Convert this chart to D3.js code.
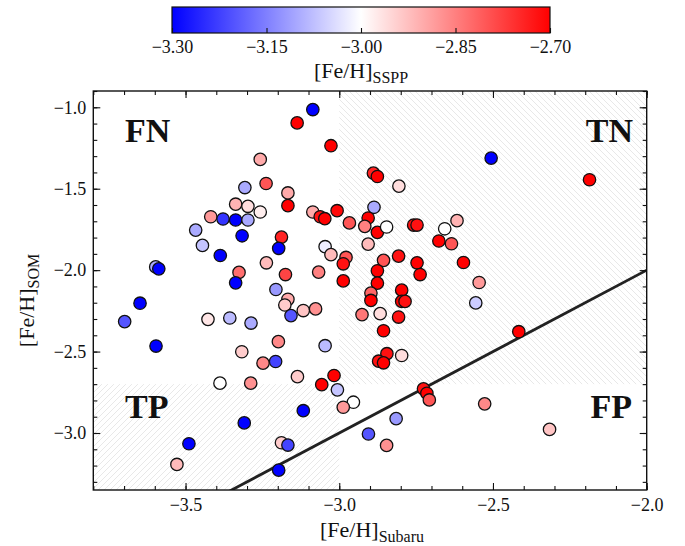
<!DOCTYPE html>
<html>
<head>
<meta charset="utf-8">
<script src="https://cdn.jsdelivr.net/npm/d3@7"></script>
<style>
  html, body { margin: 0; padding: 0; background: #fff; }
  svg { display: block; }
  text { font-family: "Liberation Serif", "DejaVu Serif", serif; fill: #111; }
</style>
</head>
<body>
<svg id="chart" width="685" height="546"></svg>
<script>
// [Fe/H] from Subaru high-resolution spectra
const xSubaru = [
  -3.086, -3.137, -3.027, -3.257, -3.238, -3.307, -3.167, -3.337, -3.297, -3.167,
  -3.257, -3.086, -3.062, -3.047, -3.007, -2.967, -3.418, -3.378, -3.337, -3.297,
  -3.467, -3.316, -3.445, -3.387, -3.188, -3.197, -3.046, -3.027, -2.978, -2.987,
  -3.597, -3.587, -3.237, -3.326, -3.175, -3.067, -2.987, -3.337, -3.206,
  -2.506, -2.186, -2.889, -2.876, -2.806, -2.887, -2.906, -2.917, -2.876, -2.846,
  -2.758, -2.747, -2.657, -2.617, -2.676, -2.635, -2.906, -2.856, -2.807, -2.876,
  -2.747, -2.737, -2.596, -2.876, -2.545, -2.797,
  -2.556, -2.897, -2.897, -2.797, -2.786, -2.926, -2.867, -2.807, -2.856, -2.416,
  -2.845, -2.872, -2.856, -2.797, -3.017, -3.006, -2.954, -2.987, -2.726, -2.715,
  -2.707, -2.527, -2.815, -2.905, -2.846, -2.316,
  -3.648, -3.698, -3.167, -3.177, -3.157, -3.117, -3.077, -3.427, -3.356, -3.287,
  -3.596, -3.198, -3.317, -3.207, -3.248, -3.046, -3.136, -3.057, -3.388, -3.288,
  -3.117, -3.309, -3.489, -3.188, -3.167, -3.528, -3.197
];

// [Fe/H] predicted by the SOM
const ySOM = [
  -1.014, -1.096, -1.236, -1.320, -1.468, -1.493, -1.526, -1.595, -1.608, -1.604,
  -1.643, -1.643, -1.672, -1.684, -1.635, -1.710, -1.672, -1.686, -1.692, -1.692,
  -1.754, -1.789, -1.848, -1.910, -1.797, -1.866, -1.856, -1.905, -1.922, -1.961,
  -1.980, -1.992, -1.955, -2.014, -2.027, -2.012, -2.066, -2.078, -2.119,
  -1.312, -1.445, -1.404, -1.425, -1.484, -1.614, -1.680, -1.731, -1.768, -1.735,
  -1.723, -1.723, -1.746, -1.696, -1.821, -1.838, -1.840, -1.940, -1.914, -2.004,
  -1.955, -2.027, -1.953, -2.080, -2.076, -2.123,
  -2.201, -2.141, -2.186, -2.192, -2.192, -2.273, -2.267, -2.288, -2.372, -2.378,
  -2.513, -2.559, -2.569, -2.524, -2.647, -2.735, -2.811, -2.842, -2.729, -2.756,
  -2.797, -2.821, -2.912, -3.006, -3.076, -2.978,
  -2.203, -2.316, -2.179, -2.214, -2.279, -2.248, -2.238, -2.302, -2.294, -2.325,
  -2.466, -2.439, -2.501, -2.561, -2.571, -2.464, -2.654, -2.703, -2.694, -2.694,
  -2.863, -2.938, -3.066, -3.060, -3.074, -3.193, -3.228
];

// [Fe/H] from the SSPP, used for colour
const cSSPP = [
  -3.32, -2.70, -2.70, -2.90, -2.80, -3.10, -2.90, -2.91, -2.96, -2.70,
  -2.98, -2.90, -2.72, -2.70, -2.71, -2.80, -2.88, -3.24, -3.30, -3.10,
  -3.10, -3.30, -3.07, -3.30, -2.74, -3.30, -3.02, -2.92, -2.80, -2.72,
  -3.10, -3.30, -2.92, -2.83, -2.78, -2.85, -2.70, -3.30, -3.12,
  -3.30, -2.70, -2.74, -2.70, -2.96, -3.10, -2.70, -2.85, -2.70, -3.00,
  -2.72, -2.72, -3.00, -2.91, -2.70, -2.80, -2.92, -2.80, -2.72, -2.70,
  -2.70, -2.70, -2.70, -2.70, -2.88, -2.70,
  -3.06, -2.82, -2.70, -2.70, -2.72, -2.84, -2.96, -2.72, -2.70, -2.70,
  -2.72, -2.72, -2.70, -2.96, -2.70, -3.07, -3.00, -2.88, -2.72, -2.70,
  -2.80, -2.86, -3.12, -3.20, -2.87, -2.93,
  -3.30, -3.20, -2.90, -2.94, -3.20, -2.93, -2.87, -2.97, -3.08, -3.10,
  -3.30, -2.86, -2.94, -3.22, -2.86, -3.08, -2.94, -2.70, -3.00, -2.87,
  -3.30, -3.30, -3.30, -2.94, -3.22, -2.92, -3.30
];

// Axis ticks
const xMajorTicks = [-3.5, -3.0, -2.5, -2.0];
const yMajorTicks = [-1.0, -1.5, -2.0, -2.5, -3.0];
const cbarTicks = [-3.30, -3.15, -3.00, -2.85, -2.70];

// Classification regions and labels
const splitX = -3.0, splitY = -2.7;
const quadrantLabels = ["FN", "TN", "TP", "FP"];

const svg = d3.select("#chart");
const plot = { left: 93.3, right: 646.7, top: 91, bottom: 490 };

const x = d3.scaleLinear().domain([-3.8, -2.0]).range([plot.left, plot.right]);
const y = d3.scaleLinear().domain([-3.35, -0.9]).range([plot.bottom, plot.top]);
const color = d3.scaleLinear()
  .domain([-3.3, -3.0, -2.7])
  .range(["#0000ff", "#ffffff", "#ff0000"])
  .clamp(true);

const defs = svg.append("defs");
// hatch patterns for the "true" regions
function hatch(id, d) {
  const p = defs.append("pattern").attr("id", id)
    .attr("patternUnits", "userSpaceOnUse").attr("width", 6).attr("height", 6);
  p.append("path").attr("d", d).attr("stroke", "#e2e2e2")
    .attr("stroke-width", 0.8).attr("fill", "none");
}
hatch("hatchBack", "M0,0L6,6M-1,5L1,7M5,-1L7,1");
hatch("hatchFwd", "M0,6L6,0M-1,1L1,-1M5,7L7,5");

defs.append("clipPath").attr("id", "plotClip").append("rect")
  .attr("x", plot.left).attr("y", plot.top)
  .attr("width", plot.right - plot.left).attr("height", plot.bottom - plot.top);

const gPlot = svg.append("g").attr("clip-path", "url(#plotClip)");

// TN region
gPlot.append("rect")
  .attr("x", x(splitX)).attr("y", y(-0.9))
  .attr("width", x(-2.0) - x(splitX)).attr("height", y(splitY) - y(-0.9))
  .attr("fill", "url(#hatchBack)");
// TP region
gPlot.append("rect")
  .attr("x", x(-3.8)).attr("y", y(splitY))
  .attr("width", x(splitX) - x(-3.8)).attr("height", y(-3.35) - y(splitY))
  .attr("fill", "url(#hatchFwd)");

// one-to-one line
gPlot.append("line")
  .attr("x1", x(-3.8)).attr("y1", y(-3.8))
  .attr("x2", x(-2.0)).attr("y2", y(-2.0))
  .attr("stroke", "#222").attr("stroke-width", 2.8);

// stars
gPlot.selectAll("circle.star").data(d3.range(xSubaru.length)).join("circle")
  .attr("class", "star")
  .attr("cx", i => x(xSubaru[i]))
  .attr("cy", i => y(ySOM[i]))
  .attr("r", 6.2)
  .attr("fill", i => color(cSSPP[i]))
  .attr("stroke", "#111").attr("stroke-width", 1.3);

// quadrant labels
const labelPos = [
  { t: quadrantLabels[0], x: 125, y: 141.5, a: "start" },
  { t: quadrantLabels[1], x: 633, y: 141.5, a: "end" },
  { t: quadrantLabels[2], x: 125, y: 417.5, a: "start" },
  { t: quadrantLabels[3], x: 632, y: 417.5, a: "end" }
];
svg.selectAll("text.quad").data(labelPos).join("text")
  .attr("class", "quad")
  .attr("x", d => d.x).attr("y", d => d.y)
  .attr("text-anchor", d => d.a)
  .style("font-size", "34px").style("font-weight", "bold")
  .text(d => d.t);

// axes with inward ticks on all four sides
const fmt1 = d3.format(".1f");
const minorX = d3.range(-3.8, -1.999, 0.1).map(v => +v.toFixed(2));
const minorY = d3.range(-3.3, -0.899, 0.1).map(v => +v.toFixed(2));

function styleAxis(g) {
  g.select(".domain").remove();
  g.selectAll(".tick line").attr("stroke", "#111").attr("stroke-width", 1.1);
  g.selectAll("text").style("font-size", "18px").style("font-family", "Liberation Serif, serif").attr("fill", "#111");
}

svg.append("g").attr("transform", `translate(0,${plot.bottom})`)
  .call(d3.axisBottom(x).tickValues(xMajorTicks).tickFormat(fmt1).tickSize(-7).tickPadding(8)).call(styleAxis);
svg.append("g").attr("transform", `translate(0,${plot.bottom})`)
  .call(d3.axisBottom(x).tickValues(minorX).tickFormat("").tickSize(-4)).call(styleAxis);
svg.append("g").attr("transform", `translate(0,${plot.top})`)
  .call(d3.axisTop(x).tickValues(xMajorTicks).tickFormat("").tickSize(-7)).call(styleAxis);
svg.append("g").attr("transform", `translate(0,${plot.top})`)
  .call(d3.axisTop(x).tickValues(minorX).tickFormat("").tickSize(-4)).call(styleAxis);

svg.append("g").attr("transform", `translate(${plot.left},0)`)
  .call(d3.axisLeft(y).tickValues(yMajorTicks).tickFormat(fmt1).tickSize(-7).tickPadding(7)).call(styleAxis);
svg.append("g").attr("transform", `translate(${plot.left},0)`)
  .call(d3.axisLeft(y).tickValues(minorY).tickFormat("").tickSize(-4)).call(styleAxis);
svg.append("g").attr("transform", `translate(${plot.right},0)`)
  .call(d3.axisRight(y).tickValues(yMajorTicks).tickFormat("").tickSize(-7)).call(styleAxis);
svg.append("g").attr("transform", `translate(${plot.right},0)`)
  .call(d3.axisRight(y).tickValues(minorY).tickFormat("").tickSize(-4)).call(styleAxis);

// frame
svg.append("rect")
  .attr("x", plot.left).attr("y", plot.top)
  .attr("width", plot.right - plot.left).attr("height", plot.bottom - plot.top)
  .attr("fill", "none").attr("stroke", "#111").attr("stroke-width", 1.4);

// axis titles
function feh(sel, sub) {
  sel.append("tspan").style("font-size", "22px").text("[Fe/H]");
  sel.append("tspan").style("font-size", "16px").attr("dy", 5).text(sub);
}
svg.append("text").attr("x", (plot.left + plot.right) / 2 + 2).attr("y", 537)
  .attr("text-anchor", "middle").call(feh, "Subaru");
svg.append("text")
  .attr("transform", `translate(34,${(plot.top + plot.bottom) / 2 + 10}) rotate(-90)`)
  .attr("text-anchor", "middle").call(feh, "SOM");

// colour bar
const cb = { left: 172, right: 550, top: 7, bottom: 33 };
const cx = d3.scaleLinear().domain([-3.3, -2.7]).range([cb.left, cb.right]);
const grad = defs.append("linearGradient").attr("id", "cbarGrad")
  .attr("x1", "0%").attr("x2", "100%").attr("y1", "0%").attr("y2", "0%");
grad.selectAll("stop").data(color.domain()).join("stop")
  .attr("offset", d => ((d - cx.domain()[0]) / (cx.domain()[1] - cx.domain()[0]) * 100) + "%")
  .attr("stop-color", d => color(d));
svg.append("rect")
  .attr("x", cb.left).attr("y", cb.top)
  .attr("width", cb.right - cb.left).attr("height", cb.bottom - cb.top)
  .attr("fill", "url(#cbarGrad)").attr("stroke", "#111").attr("stroke-width", 1.2);
svg.append("g").attr("transform", `translate(0,${cb.bottom})`)
  .call(d3.axisBottom(cx).tickValues(cbarTicks).tickFormat(d3.format(".2f")).tickSize(-5).tickPadding(7))
  .call(styleAxis);
svg.append("text").attr("x", (cb.left + cb.right) / 2).attr("y", 78)
  .attr("text-anchor", "middle").call(feh, "SSPP");
</script>
</body>
</html>
